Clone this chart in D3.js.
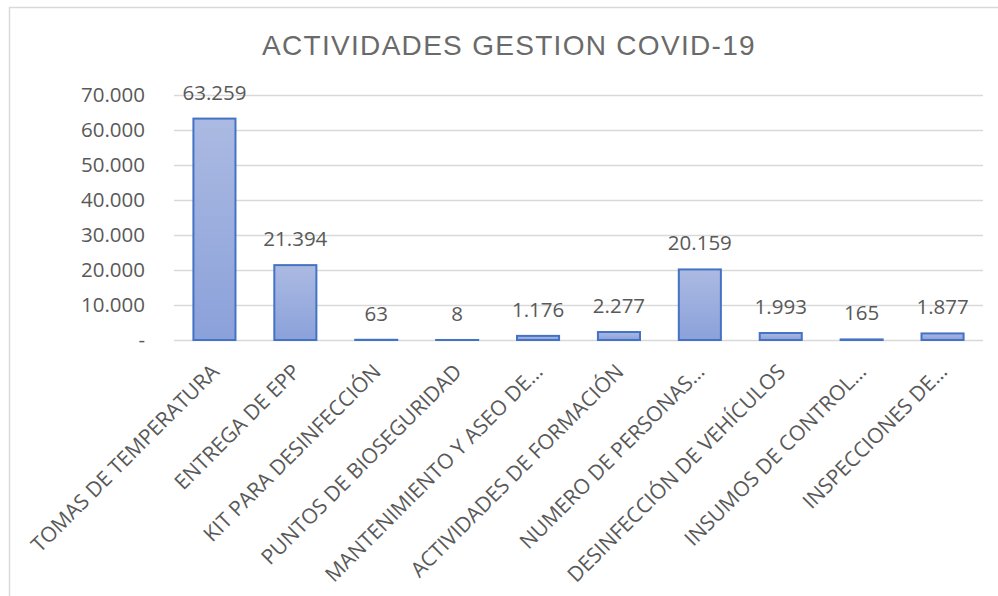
<!DOCTYPE html>
<html><head><meta charset="utf-8">
<script src="https://cdn.jsdelivr.net/npm/d3@7/dist/d3.min.js"></script>
<style>body{margin:0;background:#fff}svg{display:block}text{font-family:"Open Sans",sans-serif}</style>
</head><body>
<svg id="c" width="998" height="596"></svg>
<script>
const title = "ACTIVIDADES GESTION COVID-19";
const categories = ["TOMAS DE TEMPERATURA","ENTREGA DE EPP","KIT PARA DESINFECCIÓN","PUNTOS DE BIOSEGURIDAD","MANTENIMIENTO Y ASEO DE…","ACTIVIDADES DE FORMACIÓN","NUMERO DE PERSONAS…","DESINFECCIÓN DE VEHÍCULOS","INSUMOS DE CONTROL…","INSPECCIONES DE…"];
const values = [63259, 21394, 63, 8, 1176, 2277, 20159, 1993, 165, 1877];
const yTicks = [0, 10000, 20000, 30000, 40000, 50000, 60000, 70000];
const yTickLabels = ["-", "10.000", "20.000", "30.000", "40.000", "50.000", "60.000", "70.000"];

const svg = d3.select("#c");
const W = 998, H = 596;
const m = {l:174, r:15, t:95, b:256};
const x = d3.scaleBand().domain(categories).range([m.l, W - m.r]).paddingInner(0.48).paddingOuter(0.24);
const y = d3.scaleLinear().domain([0, 70000]).range([H - m.b, m.t]);
const fmt = v => d3.format(",")(v).replace(/,/g, ".");

// chart border
svg.append("rect").attr("x", 9.5).attr("y", 7.5).attr("width", 1000).attr("height", 600)
  .attr("fill", "none").attr("stroke", "#d9d9d9").attr("stroke-width", 1.5);

const defs = svg.append("defs");
const g = defs.append("linearGradient").attr("id", "bg").attr("x1", 0).attr("y1", 0).attr("x2", 0).attr("y2", 1);
g.append("stop").attr("offset", "0%").attr("stop-color", "#abbae2");
g.append("stop").attr("offset", "100%").attr("stop-color", "#8ba1da");

// title
svg.append("text").attr("x", 509).attr("y", 55).attr("text-anchor", "middle")
  .attr("font-size", 28).attr("fill", "#6a6a6a").style("font-family", "'Liberation Sans', Arial, sans-serif")
  .style("letter-spacing", "1.3px")
  .text(title);

// gridlines
svg.append("g").selectAll("line").data(yTicks).join("line")
  .attr("x1", m.l).attr("x2", W - m.r)
  .attr("y1", d => Math.round(y(d)) + 0.5).attr("y2", d => Math.round(y(d)) + 0.5)
  .attr("stroke", "#d9d9d9").attr("stroke-width", 1.5);

// y axis
const yAxis = d3.axisLeft(y).tickValues(yTicks).tickFormat((d, i) => yTickLabels[i]).tickSize(0).tickPadding(0);
const ya = svg.append("g").attr("transform", `translate(145,0)`).call(yAxis);
ya.select(".domain").remove();
ya.selectAll("text").attr("font-size", 20.5).attr("fill", "#595959").attr("font-family", "Open Sans, sans-serif");

// bars
svg.append("g").selectAll("rect").data(values).join("rect")
  .attr("x", (d, i) => x(categories[i]))
  .attr("width", x.bandwidth())
  .attr("y", d => y(d))
  .attr("height", d => y(0) - y(d))
  .attr("fill", "url(#bg)").attr("stroke", "#4472c4").attr("stroke-width", 2);

// data labels
svg.append("g").selectAll("text").data(values).join("text")
  .attr("x", (d, i) => x(categories[i]) + x.bandwidth() / 2)
  .attr("y", d => y(d) - 19)
  .attr("text-anchor", "middle").attr("font-size", 20.5).attr("fill", "#595959")
  .text(d => fmt(d));

// x axis labels
const xAxis = d3.axisBottom(x).tickSize(0).tickPadding(0);
const xa = svg.append("g").attr("transform", `translate(0,${H - m.b})`).call(xAxis);
xa.select(".domain").remove();
xa.selectAll("text")
  .attr("font-size", 21).attr("fill", "#595959").attr("font-family", "Open Sans, sans-serif")
  .attr("text-anchor", "end").attr("dy", null).attr("y", 0)
  .attr("transform", "translate(6,33) rotate(-45)");
</script>
</body></html>
